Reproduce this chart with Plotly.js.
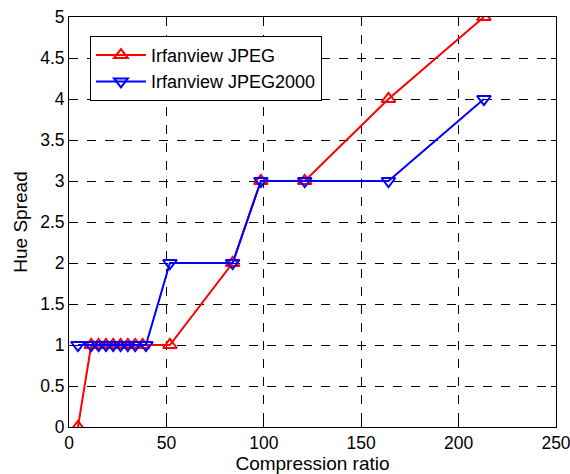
<!DOCTYPE html>
<html>
<head>
<meta charset="utf-8">
<script src="https://cdn.plot.ly/plotly-3.0.1.min.js"></script>
<style>html,body{margin:0;padding:0;background:#fff;}#chart{width:570px;height:474px;}</style>
</head>
<body>
<div id="chart"></div>
<script>
var jpegX = [4.6, 11.4, 15.2, 19, 22.7, 26.5, 30.2, 34, 37.8, 51.8, 84, 98.5, 121, 164, 213];
var jpegY = [0, 1, 1, 1, 1, 1, 1, 1, 1, 1, 2, 3, 3, 4, 5];
var j2kX = [4.6, 11.4, 15.2, 19, 22.7, 26.5, 30.2, 34, 39.5, 51.8, 84, 98.5, 121, 164, 213];
var j2kY = [1, 1, 1, 1, 1, 1, 1, 1, 1, 2, 2, 3, 3, 3, 4];
var xTicks = [0, 50, 100, 150, 200, 250];
var yTicks = [0, 0.5, 1, 1.5, 2, 2.5, 3, 3.5, 4, 4.5, 5];

var traces = [
  {x: jpegX, y: jpegY, name: 'Irfanview JPEG', mode: 'lines+markers', type: 'scatter',
   line: {color: '#ff0000', width: 2},
   marker: {symbol: 'triangle-up-open', size: 12, color: '#ff0000', line: {width: 2, color: '#ff0000'}}},
  {x: j2kX, y: j2kY, name: 'Irfanview JPEG2000', mode: 'lines+markers', type: 'scatter',
   line: {color: '#0000ff', width: 2},
   marker: {symbol: 'triangle-down-open', size: 12, color: '#0000ff', line: {width: 2, color: '#0000ff'}}}
];

var axisCommon = {
  showline: true, linecolor: '#000', linewidth: 1, mirror: 'ticks',
  ticks: 'inside', ticklen: 5, tickcolor: '#000',
  showgrid: true, gridcolor: '#000', griddash: 'dash', gridwidth: 1,
  zeroline: false, tickfont: {size: 17.5, color: '#000'},
  ticklabeloverflow: 'allow'
};

var layout = {
  width: 570, height: 474,
  margin: {l: 69, r: 14, t: 17, b: 47},
  paper_bgcolor: '#fff', plot_bgcolor: '#fff',
  font: {family: 'Liberation Sans, Arial, sans-serif', color: '#000', size: 17},
  showlegend: true,
  legend: {x: 0.043, y: 0.954, xanchor: 'left', yanchor: 'top',
           bordercolor: '#000', borderwidth: 1, bgcolor: '#fff',
           font: {size: 18}, tracegroupgap: 0, itemwidth: 50},
  xaxis: Object.assign({}, axisCommon, {range: [0, 250], tickvals: xTicks,
           title: {text: 'Compression ratio', font: {size: 19}, standoff: 5}}),
  yaxis: Object.assign({}, axisCommon, {range: [0, 5], tickvals: yTicks,
           ticktext: yTicks.map(String),
           title: {text: 'Hue Spread', font: {size: 19}, standoff: 7}})
};

Plotly.newPlot('chart', traces, layout, {displayModeBar: false, staticPlot: true});
</script>
</body>
</html>
